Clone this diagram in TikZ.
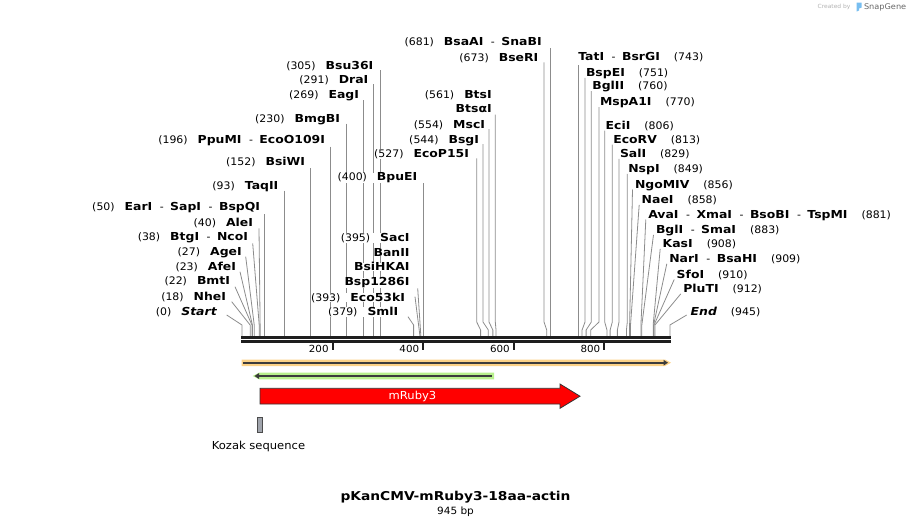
\documentclass[tikz,border=0pt]{standalone}
\usepackage{fontspec}
\setmainfont[FakeStretch=1.08]{DejaVu Sans}
\newfontfamily\fnum[FakeStretch=1.05]{DejaVu Sans}
\newfontfamily\fnam[FakeStretch=1.13]{DejaVu Sans}
\usetikzlibrary{calc,arrows.meta}
\pgfdeclarelayer{bg}
\pgfsetlayers{bg,main}
\definecolor{leadgray}{RGB}{140,140,140}
\definecolor{barblack}{RGB}{30,30,30}
\definecolor{orangeband}{RGB}{252,210,135}
\definecolor{greenband}{RGB}{184,240,140}
\definecolor{featdark}{RGB}{60,60,60}
\definecolor{kozakgray}{RGB}{160,164,172}
\definecolor{snapblue}{RGB}{120,190,240}
\newcommand\numt[1]{{\fnum\fontsize{10.4}{12}\selectfont #1}}
\newcommand\namt[1]{{\fnam\bfseries\fontsize{11}{12}\selectfont #1}}
\newcommand\sepd{\hspace{7.5pt}\numt{-}\hspace{6.5pt}}
\newcommand\gapl{\hspace{10pt}}
\newcommand\gapr{\hspace{14pt}}
\tikzset{
  lbl/.style={inner sep=0pt, outer sep=0pt, text=black},
  lft/.style={lbl, anchor=base east, fill=white},
  rgt/.style={lbl, anchor=base west, fill=white},
  lead/.style={draw=leadgray, line width=0.8pt},
  barline/.style={draw=barblack, line width=3pt},
  tickln/.style={draw=barblack, line width=2pt},
  ticklbl/.style={lbl, anchor=base east, font=\fnum\fontsize{9.8}{11}\selectfont},
  featline/.style={draw=featdark, line width=1.6pt},
}
\begin{document}
\begin{tikzpicture}[x=1pt, y=-1pt]
\useasboundingbox (0,0) rectangle (913,528);
\coordinate (kink) at (0,322);
\foreach \b in {0,18,22,23,27,38,40,50,93,152,196,230,269,291,305,379,393,395,400,527,544,554,561,673,681,743,751,760,770,806,813,829,849,856,858,881,883,908,909,910,912,945,200,600,800}
  \coordinate (s\b) at ({242+0.4528*\b},336);

% ---- left labels
\node[lft] (L0)   at (216.7,315.7) {\numt{(0)}\gapl\namt{\itshape Start}};
\node[lft] (L18)  at (226,300.7) {\numt{(18)}\gapl\namt{NheI}};
\node[lft] (L22)  at (230,284.7) {\numt{(22)}\gapl\namt{BmtI}};
\node[lft] (L23)  at (236,270) {\numt{(23)}\gapl\namt{AfeI}};
\node[lft] (L27)  at (241.7,255.7) {\numt{(27)}\gapl\namt{AgeI}};
\node[lft] (L38)  at (248,240.7) {\numt{(38)}\gapl\namt{BtgI}\sepd\namt{NcoI}};
\node[lft] (L40)  at (253,226.7) {\numt{(40)}\gapl\namt{AleI}};
\node[lft] (L50)  at (260,210) {\numt{(50)}\gapl\namt{EarI}\sepd\namt{SapI}\sepd\namt{BspQI}};
\node[lft] (L93)  at (278.3,189) {\numt{(93)}\gapl\namt{TaqII}};
\node[lft] (L152) at (305,165.7) {\numt{(152)}\gapl\namt{BsiWI}};
\node[lft] (L196) at (325,143.3) {\numt{(196)}\gapl\namt{PpuMI}\sepd\namt{EcoO109I}};
\node[lft] (L230) at (340,122.3) {\numt{(230)}\gapl\namt{BmgBI}};
\node[lft] (L269) at (359,98) {\numt{(269)}\gapl\namt{EagI}};
\node[lft] (L291) at (368.3,83.3) {\numt{(291)}\gapl\namt{DraI}};
\node[lft] (L305) at (373.3,69) {\numt{(305)}\gapl\namt{Bsu36I}};
\node[lft] (L400) at (417.3,180.7) {\numt{(400)}\gapl\namt{BpuEI}};
\node[lft] (L395a) at (409.5,241.3) {\numt{(395)}\gapl\namt{SacI}};
\node[lft] (L395b) at (409.5,256.1) {\namt{BanII}};
\node[lft] (L395c) at (409.5,270.9) {\namt{BsiHKAI}};
\node[lft] (L395d) at (409.5,285.7) {\namt{Bsp1286I}};
\node[lft] (L393) at (405,301) {\numt{(393)}\gapl\namt{Eco53kI}};
\node[lft] (L379) at (398.3,315.7) {\numt{(379)}\gapl\namt{SmlI}};
\node[lft] (L527) at (469,157.3) {\numt{(527)}\gapl\namt{EcoP15I}};
\node[lft] (L544) at (479,143) {\numt{(544)}\gapl\namt{BsgI}};
\node[lft] (L554) at (485,128) {\numt{(554)}\gapl\namt{MscI}};
\node[lft] (L561a) at (491.7,98.5) {\numt{(561)}\gapl\namt{BtsI}};
\node[lft] (L561b) at (491.7,112.5) {\namt{BtsαI}};
\node[lft] (L673) at (538.3,61.3) {\numt{(673)}\gapl\namt{BseRI}};
\node[lft] (L681) at (541.7,45.7) {\numt{(681)}\gapl\namt{BsaAI}\sepd\namt{SnaBI}};

% ---- right labels
\node[rgt] (R743) at (578.3,60) {\namt{TatI}\sepd\namt{BsrGI}\gapr\numt{(743)}};
\node[rgt] (R751) at (586,76.3) {\namt{BspEI}\gapr\numt{(751)}};
\node[rgt] (R760) at (592.3,89.7) {\namt{BglII}\gapr\numt{(760)}};
\node[rgt] (R770) at (600,105.7) {\namt{MspA1I}\gapr\numt{(770)}};
\node[rgt] (R806) at (605.7,129) {\namt{EciI}\gapr\numt{(806)}};
\node[rgt] (R813) at (613.3,143) {\namt{EcoRV}\gapr\numt{(813)}};
\node[rgt] (R829) at (620,157.3) {\namt{SalI}\gapr\numt{(829)}};
\node[rgt] (R849) at (628.3,172.3) {\namt{NspI}\gapr\numt{(849)}};
\node[rgt] (R856) at (635,188) {\namt{NgoMIV}\gapr\numt{(856)}};
\node[rgt] (R858) at (641.7,203.3) {\namt{NaeI}\gapr\numt{(858)}};
\node[rgt] (R881) at (648.3,218) {\namt{AvaI}\sepd\namt{XmaI}\sepd\namt{BsoBI}\sepd\namt{TspMI}\gapr\numt{(881)}};
\node[rgt] (R883) at (656,233.3) {\namt{BglI}\sepd\namt{SmaI}\gapr\numt{(883)}};
\node[rgt] (R908) at (662.7,247.3) {\namt{KasI}\gapr\numt{(908)}};
\node[rgt] (R909) at (669.3,262.3) {\namt{NarI}\sepd\namt{BsaHI}\gapr\numt{(909)}};
\node[rgt] (R910) at (676.7,278) {\namt{SfoI}\gapr\numt{(910)}};
\node[rgt] (R912) at (683.3,292.3) {\namt{PluTI}\gapr\numt{(912)}};
\node[rgt] (R945) at (690.7,315.7) {\namt{\itshape End}\gapr\numt{(945)}};

\begin{pgfonlayer}{bg}
% ---- leaders: left diagonal
\foreach \n/\dx/\dy in {0/10/-0.7, 18/5.7/1, 22/5/2, 23/4/1.7, 27/4/1, 38/4.7/2.6, 40/6/1.6}
  \draw[lead] ($(L\n.base east)+(\dx,\dy)$) -- ($(s\n)+(0,-11)$) -- (s\n);
% left vertical
\foreach \n/\dy in {50/4, 93/1.5, 152/2.3, 196/3.4, 230/1.2, 269/2, 291/1, 305/1.2, 400/2.3, 681/2.6}
  \draw[lead] ($(L\n.base east -| s\n)+(0,\dy)$) -- (s\n);
% middle straight slants
\draw[lead] ($(L395d.base east)+(8.2,2.6)$) -- (s395);
\draw[lead] ($(L393.base east)+(10,-4.3)$) -- (s393);
\draw[lead] ($(L379.base east)+(9.7,1)$) -- ($(s379)+(0,-11)$) -- (s379);
% middle bent verticals
\foreach \n/\m/\dx/\dy in {527/527/7.7/1, 544/544/4/1, 554/554/4/1, 561/561b/3.6/2, 673/673/5.7/1}
  \draw[lead] ($(L\m.base east)+(\dx,\dy)$) coordinate (t\n) -- (t\n |- kink) -- ($(s\n)+(0,-6)$) -- (s\n);
% right vertical
\draw[lead] ($(R743.base west -| s743)+(0,5)$) -- (s743);
% right bent verticals
\foreach \n in {751,760,770,806,813,829,849}
  \draw[lead] ($(R\n.base west)+(-1,1.5)$) coordinate (t\n) -- (t\n |- kink) -- ($(s\n)+(0,-6)$) -- (s\n);
% right diagonals
\foreach \n in {856,858,881,883,908,909,910,912}
  \draw[lead] ($(R\n.base west)+(-2.5,1.5)$) -- ($(s\n)+(0,-11)$) -- (s\n);
\draw[lead] ($(R945.base west)+(-4,-0.7)$) -- ($(s945)+(0,-11)$) -- (s945);
\end{pgfonlayer}

% ---- sequence bar
\coordinate (barL) at (241,337.2);
\coordinate (barR) at (671,337.2);
\draw[barline] (barL) -- (barR);
\draw[barline] ($(barL)+(0,4.3)$) -- ($(barR)+(0,4.3)$);
\foreach \t in {200,400,600,800} {
  \draw[tickln] ($(s\t)+(0,7)$) -- ($(s\t)+(0,13.5)$);
  \node[ticklbl] (tk\t) at ($(s\t)+(-4,16.5)$) {\t};
}

% ---- features
\fill[orangeband] (241.5,359.5) -- (665,359.5) -- (671,362.7) -- (665,366) -- (241.5,366) -- cycle;
\coordinate (orA) at (243,362.7);
\coordinate (orB) at (668,362.7);
\draw[featline, -{Triangle[length=4.5pt,width=5.5pt]}] (orA) -- (orB);

\fill[greenband] (252.7,376) -- (259,372.7) -- (494,372.7) -- (494,379.3) -- (259,379.3) -- cycle;
\coordinate (grA) at (491.5,376);
\coordinate (grB) at (254.5,376);
\draw[featline, -{Triangle[length=4.5pt,width=5.5pt]}] (grA) -- (grB);

\draw[fill=red, draw=black!80, line width=0.8pt, line join=miter]
  (260,388.3) -- (560,388.3) -- (560,384) -- (580,396.2) -- (560,408.3) -- (560,404) -- (260,404) -- cycle;
\node[lbl, text=white, font=\fnum\fontsize{11}{12}\selectfont] (mruby) at (412.5,396.2) {mRuby3};

\draw[fill=kozakgray, draw=black!70, line width=0.6pt] (257,417.5) rectangle (262,432.5);
\node[lbl, anchor=base, font=\fnum\fontsize{11}{12}\selectfont] (kozak) at (258.5,449) {Kozak sequence};

% ---- title
\node[lbl, anchor=base, font=\fnam\bfseries\fontsize{12.2}{14}\selectfont] (title) at (455.5,500.5) {pKanCMV-mRuby3-18aa-actin};
\node[lbl, anchor=base, font=\fnum\fontsize{10}{12}\selectfont] (size) at (455.5,514.8) {945 bp};

% ---- watermark
\node[lbl, anchor=east, text=black!30, font=\fnum\fontsize{5.7}{7}\selectfont] (cby) at (850.5,7.3) {Created by};
\fill[snapblue] (856.7,2.7) -- (861.7,2.7) -- (861.7,7.5) -- (859,8.5) -- (859,10.5) -- (856.7,11.5) -- cycle;
\node[lbl, anchor=west, text=black!60, font=\fnum\fontsize{7.8}{9}\selectfont] (sg) at (864,7.3) {SnapGene};
\end{tikzpicture}
\end{document}
